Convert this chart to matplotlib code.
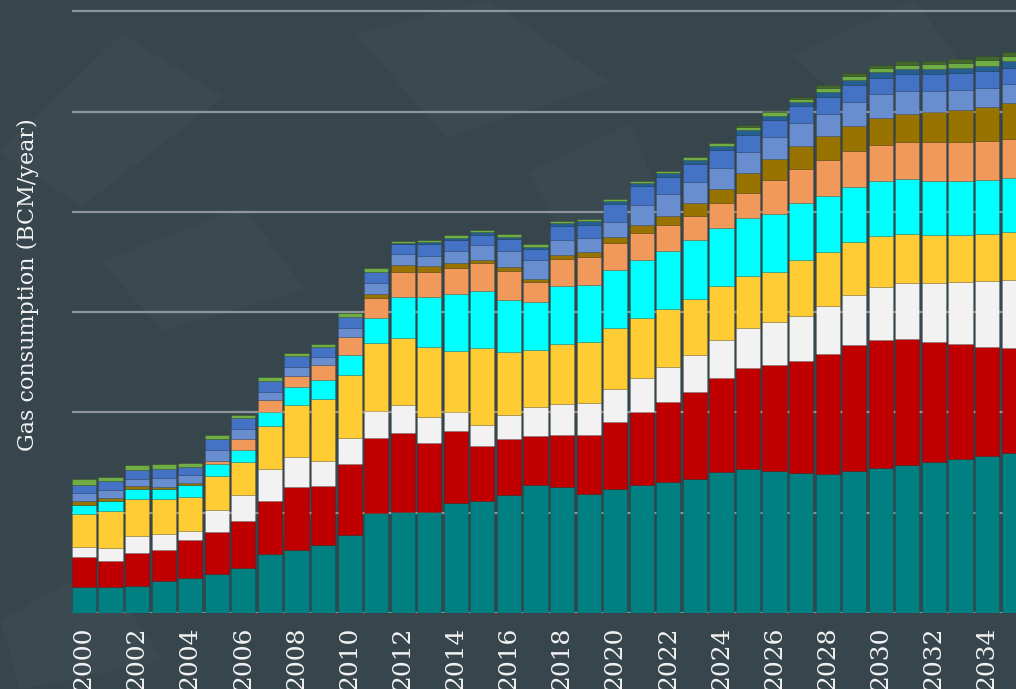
import matplotlib.pyplot as plt
from matplotlib.patches import Polygon
import numpy as np

# Years shown on the x axis
years = list(range(2000, 2036))

# Gas consumption per layer (BCM/year), bottom to top
teal = [26, 26, 27.3, 31.7, 35.3, 39.3, 44.7, 59.3, 63.3, 68, 78, 100, 100.7, 100.3, 109.3, 111.3, 118, 128,
        125.3, 118.3, 123.7, 127.3, 131, 134, 140.8, 143.9, 141.8, 139.1, 139, 141.7, 144.3, 147.3, 150.3, 153.3, 156.3, 159.7]
red = [30.3, 26, 32.7, 31.6, 37.4, 41.4, 47.3, 52, 62, 58.3, 70.7, 74.7, 79, 69, 72.4, 55, 55.3, 48.3,
       52.4, 59.4, 66.3, 73.4, 79.7, 86.6, 93.2, 100, 105.8, 112.3, 119.3, 125.3, 127.4, 125.7, 120.4, 115, 109.4, 104.3]
white = [9.4, 12.7, 16.7, 15, 9, 22, 26, 32, 30, 25.4, 25.6, 26.6, 27.3, 26, 18.6, 21, 24, 29,
         30.6, 31.6, 33.7, 34, 34.6, 37, 38.4, 40.5, 42.9, 45.2, 48, 50.3, 53.6, 55.7, 58.6, 61.4, 65, 68]
yellow = [32.6, 37.3, 37.3, 35.4, 34, 34, 33, 42.7, 52, 61.3, 63.4, 68, 66.7, 70, 61, 76.7, 62.7, 57.4,
          60, 60.7, 60.6, 59.6, 58, 55.4, 53.5, 51.3, 49.6, 55.4, 53.4, 52.4, 50.4, 49.6, 48, 47.6, 47.6, 48.3]
cyan = [9.4, 9.3, 9.7, 10, 12, 12, 12, 14.7, 18, 19.7, 20, 25, 41.6, 50, 57, 57, 52, 47.6,
        57.4, 57.3, 58, 58, 58, 58.6, 58.1, 58.5, 57.9, 56.8, 56.3, 55.3, 54.6, 54, 53.7, 53, 53.4, 53.4]
orange = [0, 0, 0, 0, 0, 2.6, 10.3, 11.6, 11, 14.3, 17, 20, 24.4, 25, 26, 28.3, 29.3, 19.4,
          27, 27.4, 27, 27, 26, 24.4, 25.2, 24.5, 33.6, 34.1, 35.3, 35.7, 36.7, 37, 38.3, 39, 38.6, 39.3]
brown = [4, 3.7, 3, 2, 1.6, 0, 0, 0, 0, 0, 0, 3.7, 7.6, 5.7, 4.4, 3, 3.7, 3.6,
         4.6, 5, 6, 8, 9, 13, 13.6, 20.1, 21.1, 22.7, 24, 25.3, 27, 28.7, 30, 32, 34, 36]
light_blue = [7.6, 7.3, 6.6, 8.6, 8, 11.7, 10, 8, 9, 8, 9, 11.3, 11, 10.3, 12.3, 15, 16.3, 18.4,
              15, 14.6, 15, 20, 21, 20.6, 21.1, 21.1, 21.8, 22.5, 22.4, 23.3, 23.3, 22.3, 21, 20, 19.4, 18.7]
blue = [8.7, 9.4, 9.7, 9.4, 8.4, 10.7, 10.7, 10.7, 10.7, 10.7, 11, 11, 9.7, 12, 11.3, 10, 12, 11,
        14, 13, 17.7, 18, 17, 18, 17.3, 17, 17.3, 17, 16.6, 17, 16, 17, 17, 17, 17, 15.6]
dark_blue = [0, 0, 0, 0, 0, 0, 0, 0, 0, 0, 0, 0, 1, 1.4, 2, 3, 2, 2.5,
             2.7, 3.4, 3, 3.4, 4, 4, 4.1, 4.4, 4.1, 4.1, 5.4, 5.4, 6, 5, 5, 5, 5, 7]
light_green = [5.7, 4, 4.7, 4.6, 4, 4, 3.3, 4.3, 3.7, 3, 4, 3.4, 2.3, 2, 2.7, 2, 2.7, 2.5,
               2.3, 2.3, 2, 2.3, 2.7, 3, 3.4, 3.4, 4.1, 3, 4, 3.6, 4.4, 4.4, 4.7, 5, 5.3, 4.7]
dark_green = [0, 0, 0, 0, 0, 0, 0, 0, 0, 0, 0, 0, 0, 0, 0, 0, 0, 0,
              0, 0, 0, 0, 0, 0, 0, 2, 1, 2.4, 2.3, 2.7, 2.6, 3.6, 3.7, 3.7, 4, 4.7]

layers = [teal, red, white, yellow, cyan, orange, brown, light_blue, blue, dark_blue, light_green, dark_green]
colors = ['#008080', '#C00000', '#F2F2F2', '#FFCC33', '#00FFFF', '#F1985B',
          '#997300', '#698ED0', '#4472C4', '#255E91', '#70AD47', '#43682B']

bg = '#37454c'
fig = plt.figure(figsize=(10.16, 6.89), dpi=100, facecolor=bg)

# faint shards in the background, like the textured backdrop (own axes, kept behind the chart)
back = fig.add_axes([0, 0, 1, 1], zorder=0)
back.set_axis_off()
back.set_xlim(0, 1)
back.set_ylim(0, 1)
shards = [
    [(0.00, 0.78), (0.12, 0.95), (0.22, 0.86), (0.08, 0.70)],
    [(0.10, 0.62), (0.24, 0.70), (0.30, 0.58), (0.16, 0.52)],
    [(0.35, 0.95), (0.48, 1.00), (0.60, 0.88), (0.44, 0.80)],
    [(0.52, 0.75), (0.62, 0.82), (0.66, 0.68), (0.56, 0.64)],
    [(0.78, 0.92), (0.90, 1.00), (0.95, 0.90), (0.84, 0.84)],
    [(0.00, 0.10), (0.10, 0.18), (0.16, 0.04), (0.02, 0.00)],
    [(0.22, 0.30), (0.30, 0.40), (0.36, 0.30), (0.28, 0.22)],
]
for pts in shards:
    back.add_patch(Polygon(pts, closed=True, facecolor='white', alpha=0.025, edgecolor='none'))

ax = fig.add_axes([72 / 1016, 76 / 689, 1 - 72 / 1016, 613 / 689], zorder=2)
ax.set_facecolor('none')

# Stacked bars
bottom = np.zeros(len(years))
for values, color in zip(layers, colors):
    ax.bar(years, values, bottom=bottom, width=0.91, color=color,
           edgecolor=(0, 0, 0, 0.12), linewidth=0.6, zorder=3)
    bottom += np.array(values)

# Horizontal grid lines
ax.set_yticks(range(0, 700, 100))
ax.yaxis.grid(True, color='#8f9699', linewidth=1.6, zorder=1)
ax.set_axisbelow(True)
ax.tick_params(axis='y', left=False, labelleft=False)

ax.set_xlim(1999.548, 2035.09)
ax.set_ylim(0, 611.2)
ax.set_xticks(range(2000, 2036, 2))
ax.set_xticklabels([str(y) for y in range(2000, 2036, 2)], rotation=90,
                   fontfamily='DejaVu Serif', fontsize=18, color='#f2f2f2')
ax.tick_params(axis='x', length=0, pad=10)

for spine in ax.spines.values():
    spine.set_visible(False)

fig.text(28 / 1016, 1 - 285 / 689, 'Gas consumption (BCM/year)', rotation=90,
         ha='center', va='center', fontfamily='DejaVu Serif', fontsize=16, color='#f2f2f2')

plt.savefig('out.png', dpi=100, facecolor=bg)
